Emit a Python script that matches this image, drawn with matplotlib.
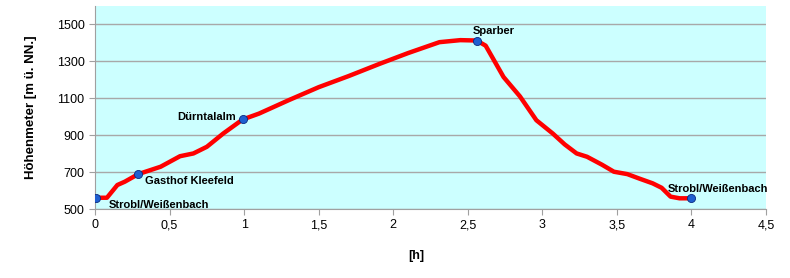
import matplotlib.pyplot as plt
from matplotlib.ticker import FixedLocator, FuncFormatter

# profile
hours = [0.01, 0.08, 0.15, 0.2, 0.29, 0.44, 0.57, 0.66, 0.75, 0.86, 0.99, 1.1,
         1.3, 1.5, 1.7, 1.91, 2.1, 2.31, 2.45, 2.56, 2.62, 2.74, 2.85, 2.96,
         3.07, 3.15, 3.23, 3.3, 3.4, 3.48, 3.57, 3.65, 3.74, 3.8, 3.86, 3.92, 4.0]
height = [561, 561, 630, 648, 689, 729, 786, 801, 837, 909, 985, 1017,
          1090, 1160, 1220, 1287, 1345, 1404, 1415, 1413, 1385, 1215, 1110, 981,
          909, 850, 801, 783, 740, 702, 689, 665, 639, 615, 567, 558, 558]

stops_h = [0.01, 0.29, 0.99, 2.56, 4.0]
stops_v = [561, 689, 985, 1413, 558]
stops = ['Strobl/Weißenbach', 'Gasthof Kleefeld', 'Dürntalalm', 'Sparber',
         'Strobl/Weißenbach']

plt.rcParams['font.family'] = ['Liberation Sans', 'DejaVu Sans']

fig = plt.figure(figsize=(7.9, 2.78), dpi=100)
ax = fig.add_axes([95 / 790, 1 - 209 / 278, 671 / 790, 203 / 278])
ax.set_facecolor('#ccffff')

ax.plot(hours, height, color='#ff0000', lw=3.2, solid_capstyle='round',
        solid_joinstyle='round', zorder=3)
ax.scatter(stops_h, stops_v, s=34, color='#1f5fd0', edgecolor='#0a2a80',
           linewidth=0.6, zorder=4)

# labels next to the stops
offsets = [(9, -5, 'left'), (5, -5, 'left'), (-5, 2, 'right'),
           (-3, 7, 'left'), (-17, 7, 'left')]
for x, y, name, (dx, dy, ha) in zip(stops_h, stops_v, stops, offsets):
    ax.annotate(name, (x, y), xytext=(dx, dy), textcoords='offset points',
                ha=ha, va='center', fontsize=8, fontweight='bold',
                annotation_clip=False, zorder=5)

ax.set_xlim(0, 4.5)
ax.set_ylim(500, 1600)
ax.xaxis.set_major_locator(FixedLocator([0, 0.5, 1, 1.5, 2, 2.5, 3, 3.5, 4, 4.5]))
ax.yaxis.set_major_locator(FixedLocator([500, 700, 900, 1100, 1300, 1500]))
ax.xaxis.set_major_formatter(FuncFormatter(lambda v, p: ('%g' % v).replace('.', ',')))
ax.grid(axis='y', color='#a8a8a8', lw=1)
ax.set_axisbelow(True)

for s in ['top', 'right']:
    ax.spines[s].set_visible(False)
for s in ['left', 'bottom']:
    ax.spines[s].set_color('#a0a0a0')
ax.tick_params(colors='#a0a0a0', labelcolor='black', labelsize=9, length=4)

ax.set_xlabel('[h]', fontweight='bold', fontsize=9)
ax.set_ylabel('Höhenmeter [m ü. NN.]', fontweight='bold', fontsize=9.5)
ax.xaxis.set_label_coords(0.479, -0.2)
ax.yaxis.set_label_coords(-0.087, 0.5)

fig.savefig('out.png', dpi=100)
